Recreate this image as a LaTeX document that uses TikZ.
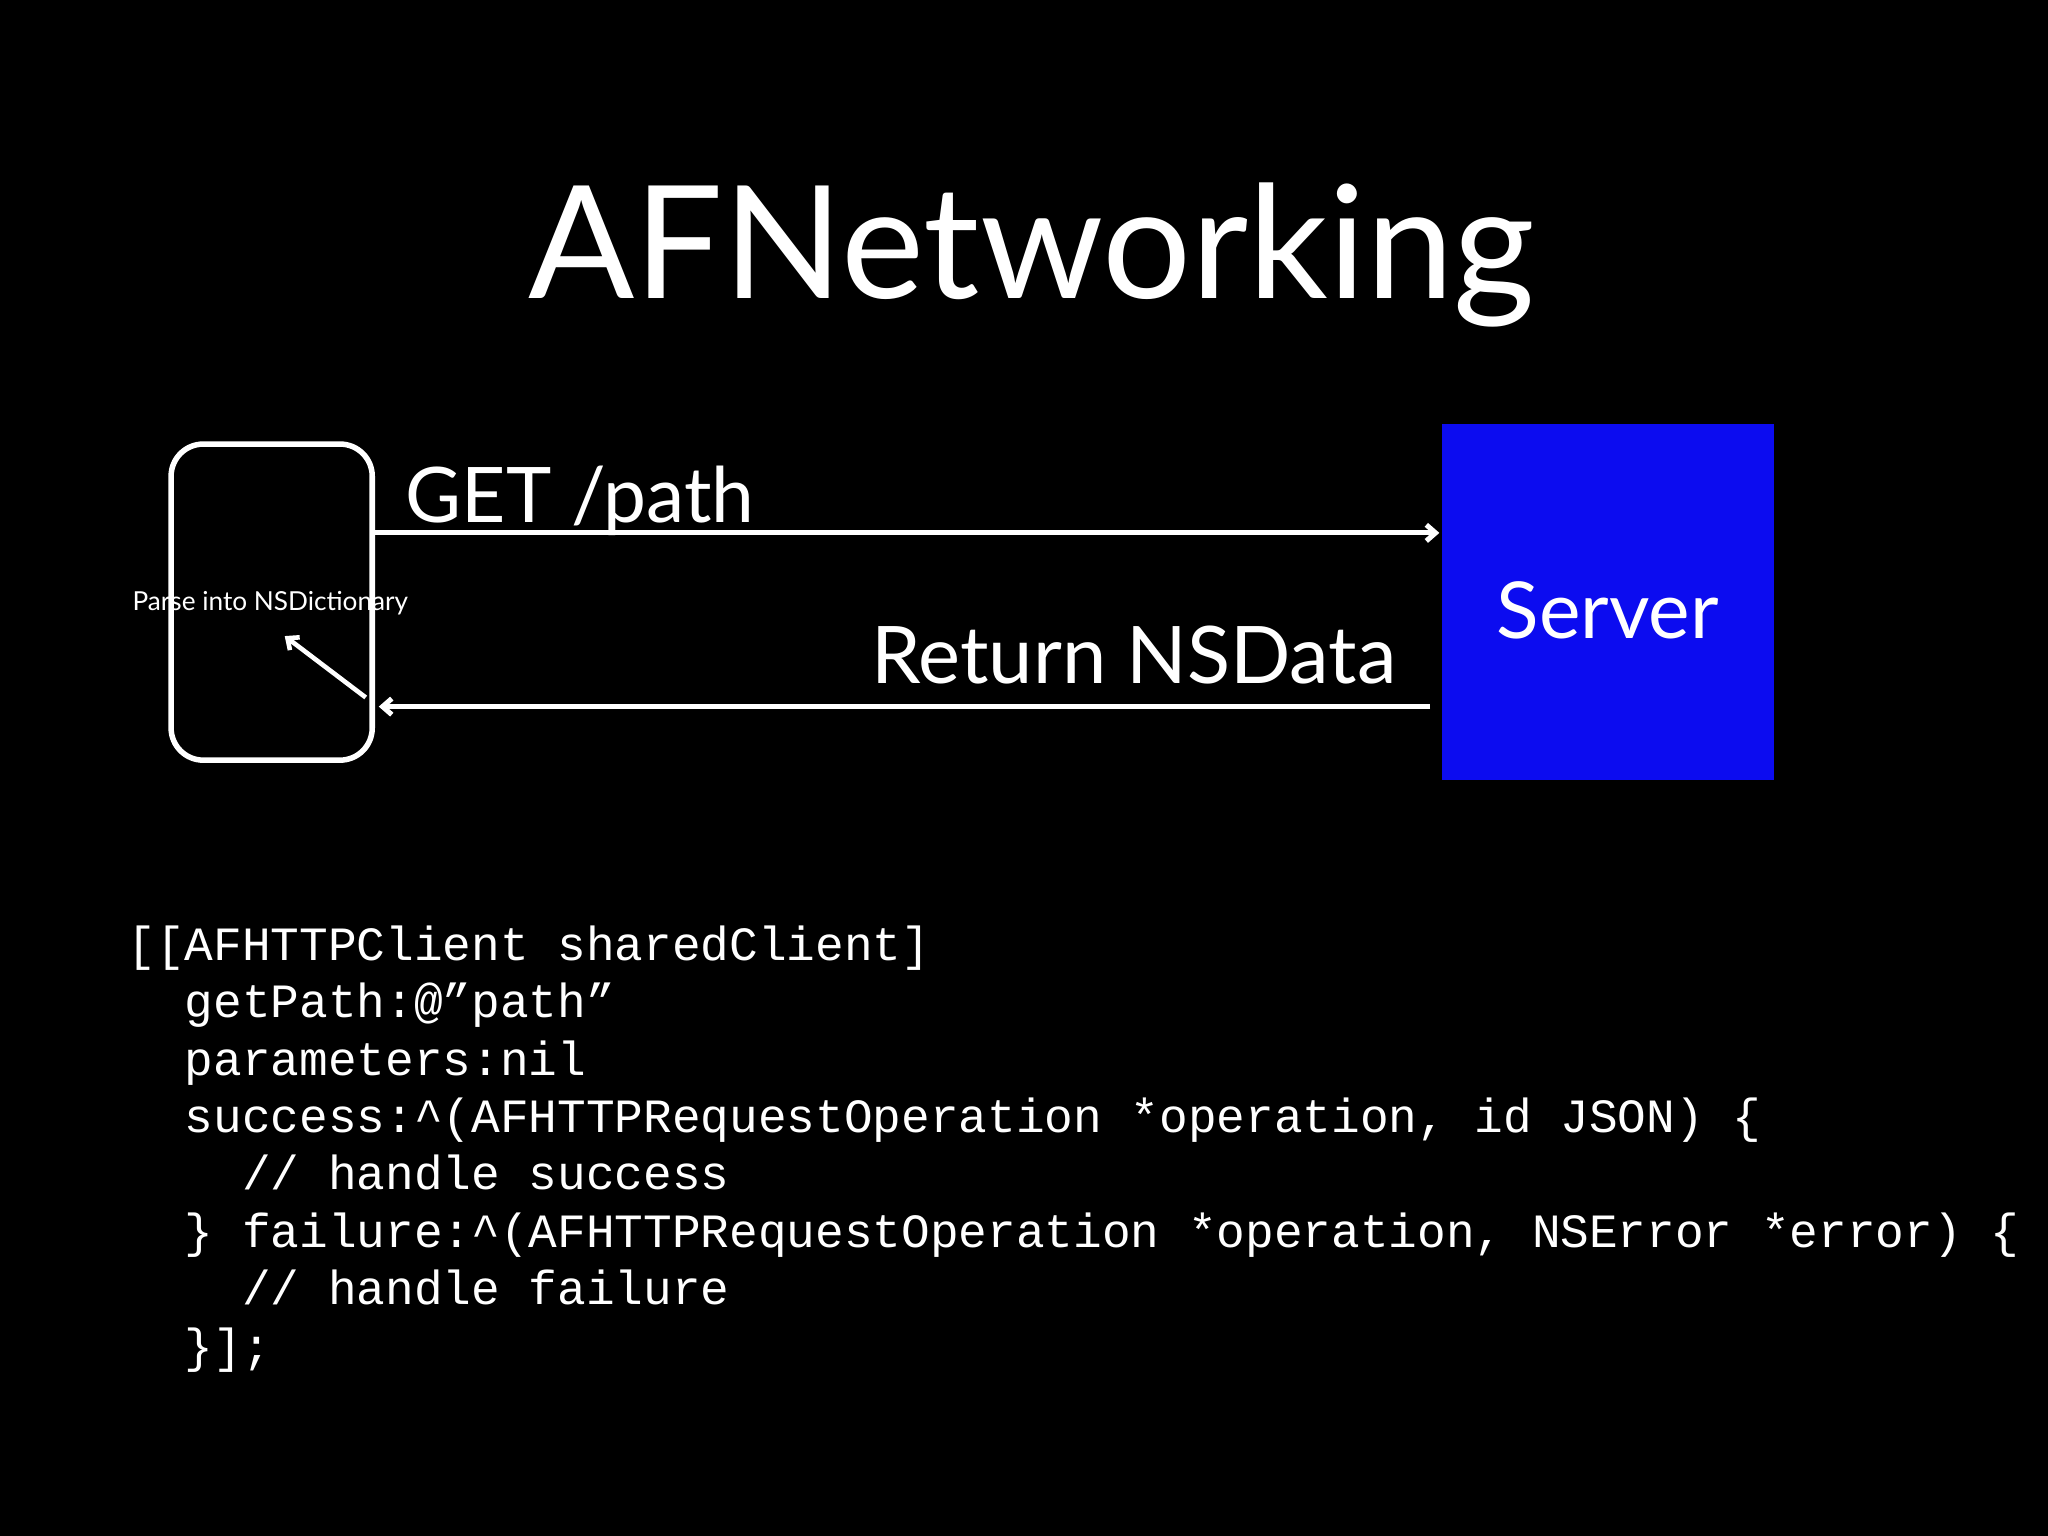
\documentclass[tikz,border=0pt]{standalone}
\usepackage{fontspec}
\setmainfont{Lato}
\setmonofont{Liberation Mono}
\usetikzlibrary{arrows.meta}
\definecolor{srv}{RGB}{12,12,240}
\begin{document}
\begin{tikzpicture}[x=0.01cm,y=-0.01cm,
  conn/.style={draw=white,line width=1.1pt,-{Straight Barb[length=2pt,width=3.5pt]}},
  lbl/.style={text=white,inner sep=0pt}]
\fill[black] (0,0) rectangle (1568,1176);
\useasboundingbox (0,0) rectangle (1568,1176);
\node[lbl,font=\fontsize{34.2}{40}\selectfont] (title) at (790,195) {AFNetworking};
\node[draw=white,line width=1.2pt,rounded corners=7pt,minimum width=154*0.01cm,minimum height=242*0.01cm,inner sep=0pt] (phone) at (208,461) {};
\node[fill=srv,minimum width=254*0.01cm,minimum height=272*0.01cm,inner sep=0pt] (server) at (1231,461) {};
\node[lbl,font=\fontsize{17.1}{20}\selectfont] (stext) at (1231,467) {Server};
\coordinate (a1) at (285,408);
\coordinate (a2) at (1102,408);
\coordinate (b1) at (1095,541);
\coordinate (b2) at (290,541);
\draw[conn] (a1) -- (a2);
\draw[conn] (b1) -- (b2);
\node[lbl,anchor=base west,font=\fontsize{16.7}{20}\selectfont] (get) at (310,400) {GET /path};
\node[lbl,anchor=base east,font=\fontsize{17.3}{20}\selectfont] (ret) at (1070,523) {Return NSData};
\node[lbl,font=\fontsize{5.7}{7}\selectfont] (parse) at (207,462) {Parse into NSDictionary};
\coordinate (c1) at (280,534);
\coordinate (c2) at (218,487);
\draw[conn,line width=1pt] (c1) -- (c2);
\node[lbl,anchor=north west,align=left,font=\fontsize{10.4}{12.5}\ttfamily] (code) at (97,708) {%
[[AFHTTPClient sharedClient]\\
\ \ getPath:@”path”\\
\ \ parameters:nil\\
\ \ success:\textasciicircum(AFHTTPRequestOperation *operation, id JSON) \{\\
\ \ \ \ // handle success\\
\ \ \} failure:\textasciicircum(AFHTTPRequestOperation *operation, NSError *error) \{\\
\ \ \ \ // handle failure\\
\ \ \}];};
\end{tikzpicture}
\end{document}
